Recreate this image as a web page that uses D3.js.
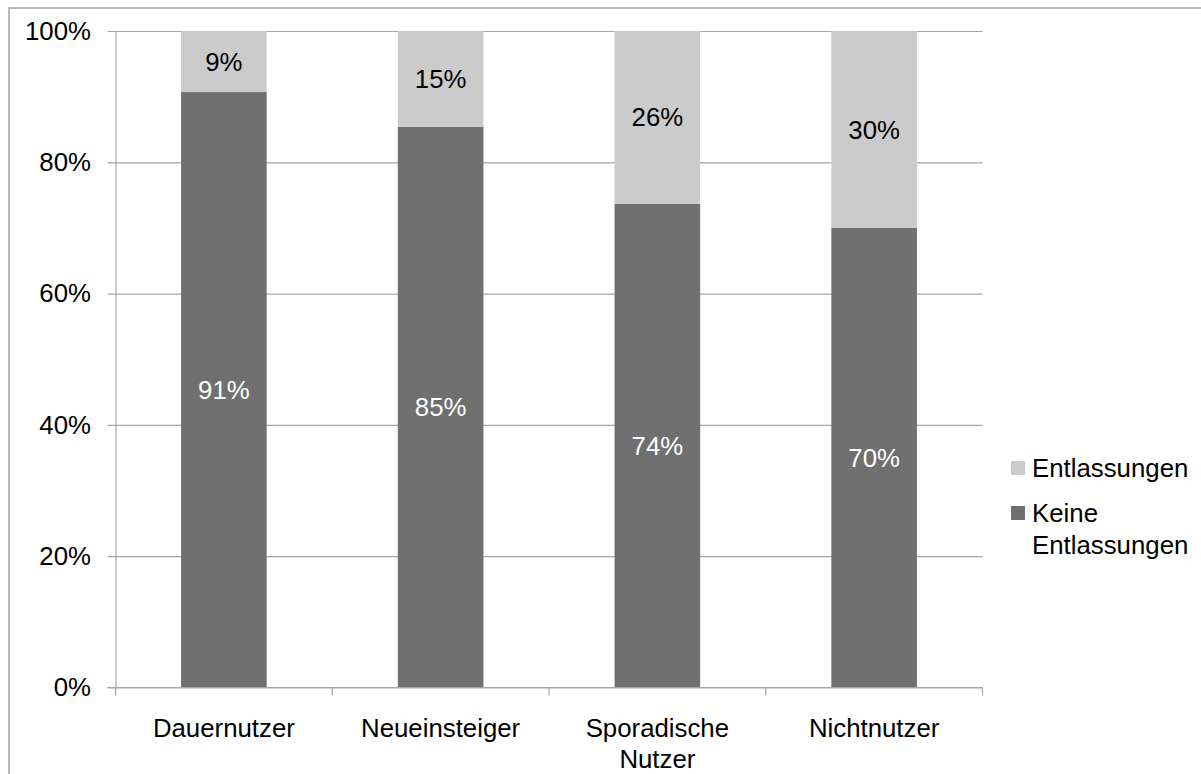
<!DOCTYPE html>
<html>
<head>
<meta charset="utf-8">
<script src="https://cdn.jsdelivr.net/npm/d3@7"></script>
<style>
  body { margin: 0; background: #fff; }
  text { font-family: "Liberation Sans", Arial, Helvetica, sans-serif; }
</style>
</head>
<body>
<svg id="chart"></svg>
<script>
const categories = ['Dauernutzer', 'Neueinsteiger', 'Sporadische Nutzer', 'Nichtnutzer']
const keineEntlassungen = [90.7, 85.4, 73.7, 70.0]
const entlassungen = [9.3, 14.6, 26.3, 30.0]
const yTicks = [0, 20, 40, 60, 80, 100]
const seriesNames = ['Entlassungen', 'Keine Entlassungen']

const svgw = 1201
const svgh = 774
const fs = 25.8
const svg = d3.select('#chart')
    .attr('width', svgw)
    .attr('height', svgh)

// outer frame, runs off the right and bottom edge
svg.append('rect')
    .attr('x', 9)
    .attr('y', 8)
    .attr('width', 1300)
    .attr('height', 900)
    .attr('fill', 'none')
    .attr('stroke', '#b9b9b9')
    .attr('stroke-width', 2)

const plotL = 115.5, plotR = 982.5, plotT = 31, plotB = 687.5

const xScale = d3.scaleBand()
    .domain(categories)
    .range([plotL, plotR])
    .padding(0)
const yScale = d3.scaleLinear()
    .domain([0, 100])
    .range([plotB, plotT])

const barW = xScale.bandwidth() * 0.395

// gridlines + y labels
const yAxis = d3.axisLeft(yScale)
    .tickValues(yTicks)
    .tickSize(-(plotR - plotL))
    .tickSizeOuter(0)
    .tickPadding(24.5)
    .tickFormat(d => d + '%')

const gy = svg.append('g')
    .attr('transform', `translate(${plotL},0)`)
    .call(yAxis)
gy.select('.domain').attr('stroke', '#a6a6a6').attr('stroke-width', 1.2)
gy.selectAll('.tick line')
    .attr('x1', -8)
    .attr('stroke', '#a6a6a6')
    .attr('stroke-width', 1.2)
gy.selectAll('.tick text')
    .attr('font-size', fs)
    .attr('fill', '#000')
    .style('font-family', '"Liberation Sans", Arial, sans-serif')

// stacked bars
const stackData = categories.map((c, i) => ({ cat: c, keine: keineEntlassungen[i], ent: entlassungen[i] }))

const barGroup = svg.append('g')

barGroup.selectAll('.keine')
    .data(stackData)
    .join('rect')
    .attr('class', 'keine')
    .attr('x', d => xScale(d.cat) + (xScale.bandwidth() - barW) / 2)
    .attr('width', barW)
    .attr('y', d => yScale(d.keine))
    .attr('height', d => yScale(0) - yScale(d.keine))
    .attr('fill', '#707070')

barGroup.selectAll('.ent')
    .data(stackData)
    .join('rect')
    .attr('class', 'ent')
    .attr('x', d => xScale(d.cat) + (xScale.bandwidth() - barW) / 2)
    .attr('width', barW)
    .attr('y', d => yScale(d.keine + d.ent))
    .attr('height', d => yScale(d.keine) - yScale(d.keine + d.ent))
    .attr('fill', '#cbcbcb')

// value labels
barGroup.selectAll('.lblKeine')
    .data(stackData)
    .join('text')
    .attr('x', d => xScale(d.cat) + xScale.bandwidth() / 2)
    .attr('y', d => yScale(d.keine / 2))
    .attr('dy', '0.35em')
    .attr('text-anchor', 'middle')
    .attr('font-size', fs)
    .attr('fill', '#fff')
    .text(d => Math.round(d.keine) + '%')

barGroup.selectAll('.lblEnt')
    .data(stackData)
    .join('text')
    .attr('x', d => xScale(d.cat) + xScale.bandwidth() / 2)
    .attr('y', d => yScale(d.keine + d.ent / 2))
    .attr('dy', '0.35em')
    .attr('text-anchor', 'middle')
    .attr('font-size', fs)
    .attr('fill', '#000')
    .text(d => Math.round(d.ent) + '%')

// x axis line and ticks at band edges
const xg = svg.append('g')
xg.append('line')
    .attr('x1', plotL - 8).attr('x2', plotR)
    .attr('y1', plotB).attr('y2', plotB)
    .attr('stroke', '#a6a6a6').attr('stroke-width', 1.2)
const edges = categories.map(c => xScale(c)).concat([plotR])
xg.selectAll('.xt')
    .data(edges)
    .join('line')
    .attr('x1', d => d).attr('x2', d => d)
    .attr('y1', plotB).attr('y2', plotB + 8)
    .attr('stroke', '#a6a6a6').attr('stroke-width', 1.2)

const catLines = { 'Sporadische Nutzer': ['Sporadische', 'Nutzer'] }
xg.selectAll('.xl')
    .data(categories)
    .join('text')
    .attr('x', d => xScale(d) + xScale.bandwidth() / 2)
    .attr('y', 737)
    .attr('text-anchor', 'middle')
    .attr('font-size', fs)
    .attr('fill', '#000')
    .each(function (d) {
        const lines = catLines[d] || [d]
        d3.select(this).selectAll('tspan')
            .data(lines)
            .join('tspan')
            .attr('x', xScale(d) + xScale.bandwidth() / 2)
            .attr('dy', (l, i) => i === 0 ? 0 : 31)
            .text(l => l)
    })

// legend
const legend = svg.append('g')
const legendItems = [
    { name: seriesNames[0], lines: ['Entlassungen'], color: '#cbcbcb', y: 468 },
    { name: seriesNames[1], lines: ['Keine', 'Entlassungen'], color: '#707070', y: 513 }
]
legendItems.forEach(it => {
    legend.append('rect')
        .attr('x', 1011).attr('y', it.y - 7)
        .attr('width', 14).attr('height', 14)
        .attr('fill', it.color)
    const t = legend.append('text')
        .attr('x', 1032).attr('y', it.y)
        .attr('font-size', fs)
        .attr('fill', '#000')
    t.selectAll('tspan')
        .data(it.lines)
        .join('tspan')
        .attr('x', 1032)
        .attr('dy', (l, i) => i === 0 ? '0.35em' : 32)
        .text(l => l)
})
</script>
</body>
</html>
